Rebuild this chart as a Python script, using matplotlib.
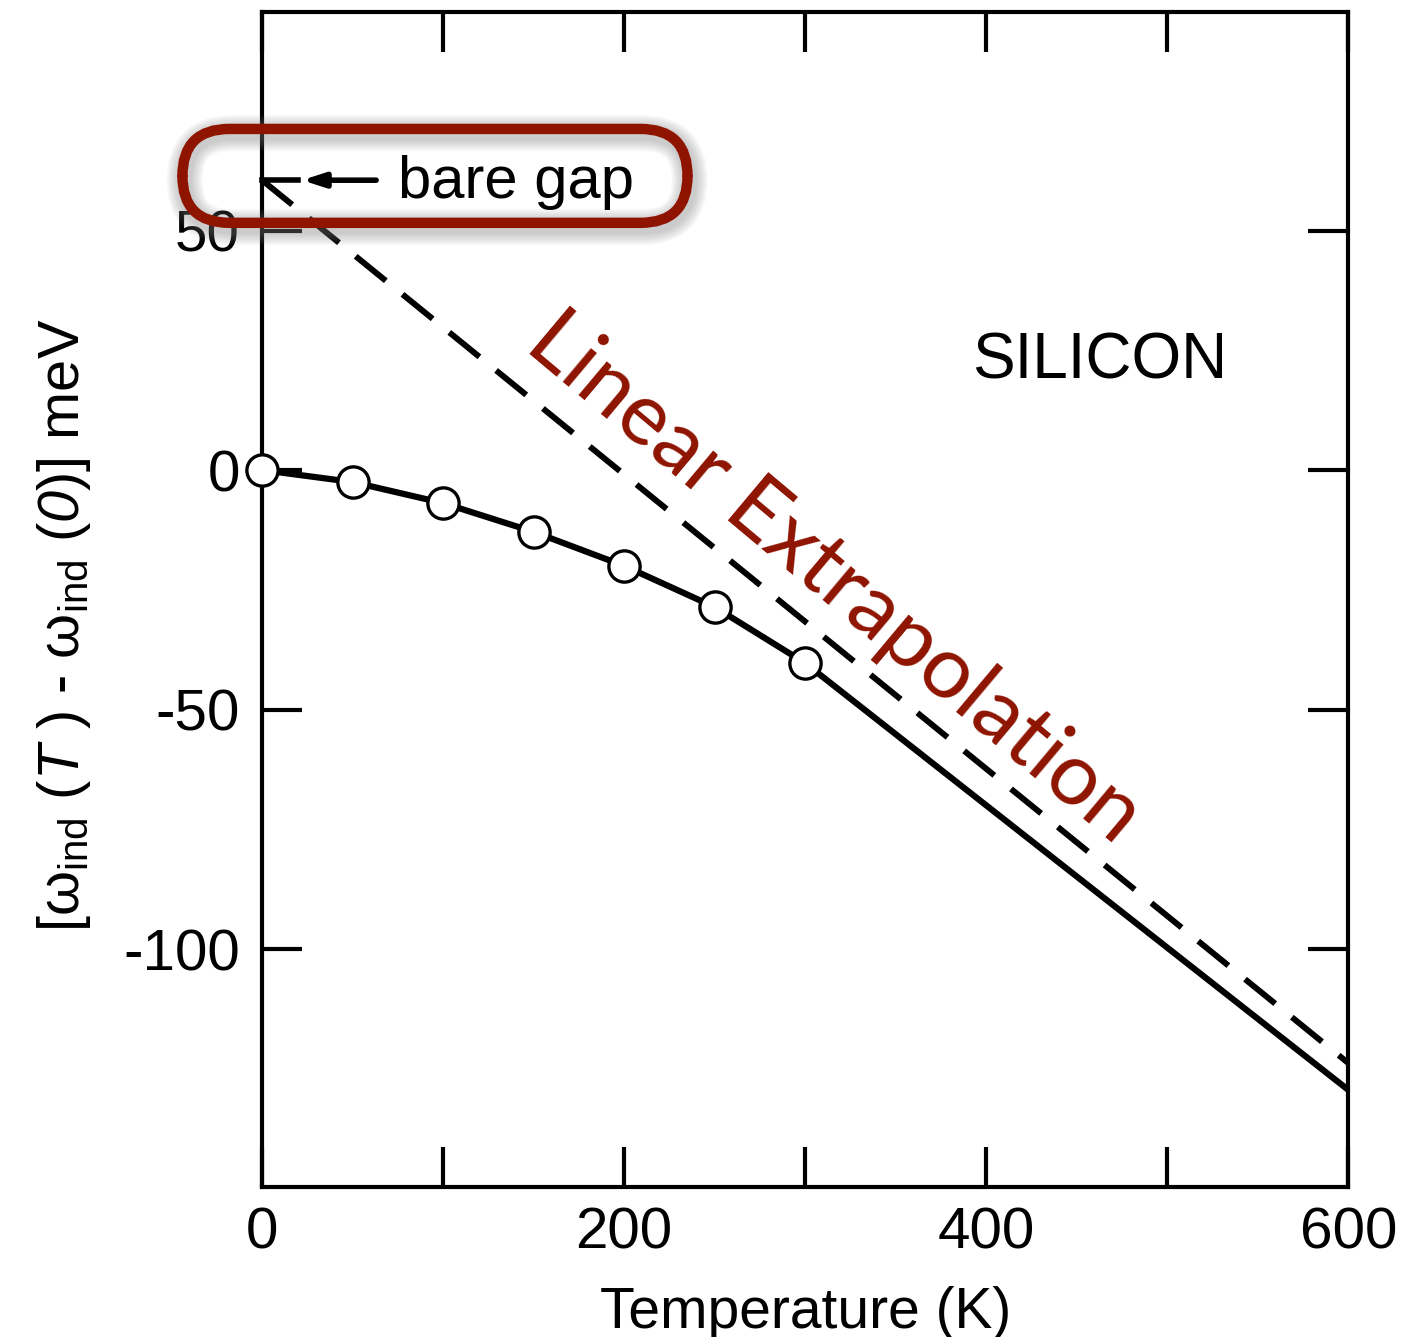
import matplotlib
matplotlib.use('Agg')
import matplotlib.pyplot as plt
import matplotlib.patheffects as pe
from matplotlib.patches import FancyBboxPatch

plt.rcParams['font.family'] = ['Liberation Sans', 'DejaVu Sans']
plt.rcParams['axes.unicode_minus'] = False
plt.rcParams['mathtext.fontset'] = 'custom'
plt.rcParams['mathtext.rm'] = 'Liberation Sans'
plt.rcParams['mathtext.it'] = 'Liberation Sans:italic'
plt.rcParams['mathtext.sf'] = 'Liberation Sans:italic'

# measured gap shift vs temperature (meV)
temps = [0, 50, 100, 150, 200, 250, 300]
shift = [0, -2.5, -6.9, -12.9, -20.0, -28.6, -40.3]

# high-temperature continuation of the fit
fit_T = [300, 600]
fit_shift = [-40.3, -129.4]

# linear extrapolation back to T = 0 (bare gap)
lin_T = [0, 600]
lin_shift = [60.5, -123.8]
bare_gap = 60.5

red = '#8e1400'

fig = plt.figure(figsize=(14.09, 13.37), dpi=100)
ax = fig.add_axes([0.186, 0.112, 0.771, 0.879])

ax.plot(lin_T, lin_shift, color='black', lw=4.3, dashes=(6.5, 3.6), zorder=2)
ax.plot(temps + fit_T[1:], shift + fit_shift[1:], color='black', lw=4.5, zorder=3)
ax.plot(temps, shift, 'o', ms=22.5, mfc='white', mec='black', mew=2.4, zorder=4, clip_on=False)

ax.set_xlim(0, 600)
ax.set_ylim(-149.7, 95.6)
ax.set_xticks([0, 200, 400, 600])
ax.set_xticks([100, 300, 500], minor=True)
ax.set_yticks([-100, -50, 0, 50])
ax.tick_params(which='both', direction='in', length=29, width=3, top=True, right=True,
               labelsize=42, pad=14)
ax.tick_params(axis='y', pad=16)
for s in ax.spines.values():
    s.set_linewidth(3)

ax.set_xlabel('Temperature (K)', fontsize=41, labelpad=18)
ax.set_ylabel(r'[$\mathrm{\omega}_{\rm ind}$ ($T$ ) - $\mathrm{\omega}_{\rm ind}$ ($\mathsf{0}$)] meV',
              fontsize=41.5, labelpad=22)
ax.yaxis.label.set_y(0.478)

ax.text(462.5, 22.6, 'SILICON', fontsize=46, ha='center', va='center')

# bare gap marker: short dash off the axis, then a left-pointing arrow
ax.plot([0, 20], [bare_gap, bare_gap], color='black', lw=4, clip_on=False, zorder=5)
ax.annotate('', xy=(22, bare_gap), xytext=(63, bare_gap),
            arrowprops=dict(arrowstyle='-|>,head_length=1.3,head_width=0.42',
                            color='black', lw=4, shrinkA=0, shrinkB=0))
ax.text(75, bare_gap - 0.5, 'bare gap', fontsize=43, ha='left', va='center')

box = FancyBboxPatch((-44, 51.6), 279, 19.6,
                     boxstyle='round,pad=0,rounding_size=26', mutation_aspect=0.38,
                     fill=False, edgecolor=red, lw=7.5, clip_on=False, zorder=6)
box.set_path_effects([pe.Stroke(linewidth=7.5 + 3 * k, foreground='gray', alpha=0.08,
                                offset=(1.5, -3)) for k in range(6, 0, -1)] + [pe.Normal()])
ax.add_patch(box)

ax.text(316, -22.5, 'Linear Extrapolation', fontsize=63, color=red, family='Lato',
        rotation=-40, rotation_mode='anchor', ha='center', va='center')

fig.savefig('out.png', dpi=100)
